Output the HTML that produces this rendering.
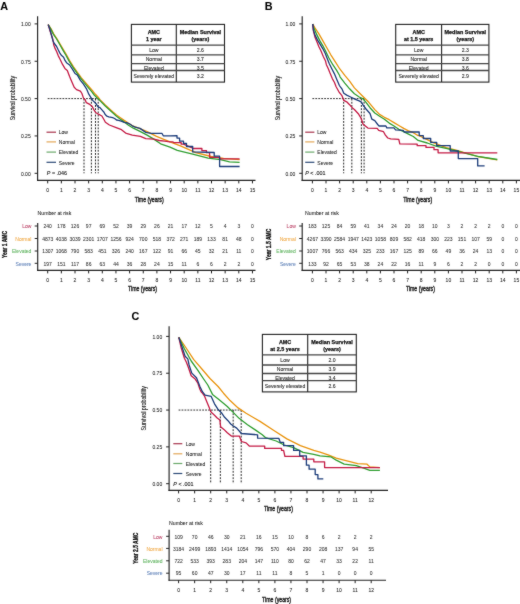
<!DOCTYPE html><html><head><meta charset="utf-8"><style>html,body{margin:0;padding:0;background:#fff;width:520px;height:604px;overflow:hidden}svg{display:block}text{font-family:"Liberation Sans",sans-serif}</style></head><body>
<svg width="520" height="604" viewBox="0 0 520 604">
<defs><filter id="bl" x="0" y="0" width="520" height="604" filterUnits="userSpaceOnUse" color-interpolation-filters="sRGB"><feConvolveMatrix order="3" kernelMatrix="1 2 1 2 28 2 1 2 1" divisor="40" edgeMode="duplicate"/></filter></defs>
<g filter="url(#bl)">
<rect width="520" height="604" fill="#fff"/>
<text x="0.3" y="9.7" font-size="10.8" text-anchor="start" font-weight="bold" fill="#000" stroke="#000" stroke-width="0.06" >A</text>
<line x1="37.6" y1="16.2" x2="37.6" y2="181.0" stroke="#222" stroke-width="1.15"/>
<line x1="37.050000000000004" y1="180.4" x2="255.5" y2="180.4" stroke="#222" stroke-width="1.15"/>
<line x1="34.6" y1="173.3" x2="37.6" y2="173.3" stroke="#222" stroke-width="1"/>
<text x="30.700000000000003" y="175.55" font-size="5" text-anchor="end" font-weight="normal" fill="#222" stroke="#222" stroke-width="0.06" >0.00</text>
<line x1="34.6" y1="135.95" x2="37.6" y2="135.95" stroke="#222" stroke-width="1"/>
<text x="30.700000000000003" y="138.2" font-size="5" text-anchor="end" font-weight="normal" fill="#222" stroke="#222" stroke-width="0.06" >0.25</text>
<line x1="34.6" y1="98.6" x2="37.6" y2="98.6" stroke="#222" stroke-width="1"/>
<text x="30.700000000000003" y="100.85" font-size="5" text-anchor="end" font-weight="normal" fill="#222" stroke="#222" stroke-width="0.06" >0.50</text>
<line x1="34.6" y1="61.25" x2="37.6" y2="61.25" stroke="#222" stroke-width="1"/>
<text x="30.700000000000003" y="63.5" font-size="5" text-anchor="end" font-weight="normal" fill="#222" stroke="#222" stroke-width="0.06" >0.75</text>
<line x1="34.6" y1="23.9" x2="37.6" y2="23.9" stroke="#222" stroke-width="1"/>
<text x="30.700000000000003" y="26.15" font-size="5" text-anchor="end" font-weight="normal" fill="#222" stroke="#222" stroke-width="0.06" >1.00</text>
<line x1="47.7" y1="180.4" x2="47.7" y2="183.4" stroke="#222" stroke-width="1"/>
<text x="47.7" y="192.15" font-size="5" text-anchor="middle" font-weight="normal" fill="#222" stroke="#222" stroke-width="0.06" >0</text>
<line x1="61.35" y1="180.4" x2="61.35" y2="183.4" stroke="#222" stroke-width="1"/>
<text x="61.35" y="192.15" font-size="5" text-anchor="middle" font-weight="normal" fill="#222" stroke="#222" stroke-width="0.06" >1</text>
<line x1="75.0" y1="180.4" x2="75.0" y2="183.4" stroke="#222" stroke-width="1"/>
<text x="75.0" y="192.15" font-size="5" text-anchor="middle" font-weight="normal" fill="#222" stroke="#222" stroke-width="0.06" >2</text>
<line x1="88.65" y1="180.4" x2="88.65" y2="183.4" stroke="#222" stroke-width="1"/>
<text x="88.65" y="192.15" font-size="5" text-anchor="middle" font-weight="normal" fill="#222" stroke="#222" stroke-width="0.06" >3</text>
<line x1="102.3" y1="180.4" x2="102.3" y2="183.4" stroke="#222" stroke-width="1"/>
<text x="102.3" y="192.15" font-size="5" text-anchor="middle" font-weight="normal" fill="#222" stroke="#222" stroke-width="0.06" >4</text>
<line x1="115.95" y1="180.4" x2="115.95" y2="183.4" stroke="#222" stroke-width="1"/>
<text x="115.95" y="192.15" font-size="5" text-anchor="middle" font-weight="normal" fill="#222" stroke="#222" stroke-width="0.06" >5</text>
<line x1="129.6" y1="180.4" x2="129.6" y2="183.4" stroke="#222" stroke-width="1"/>
<text x="129.6" y="192.15" font-size="5" text-anchor="middle" font-weight="normal" fill="#222" stroke="#222" stroke-width="0.06" >6</text>
<line x1="143.25" y1="180.4" x2="143.25" y2="183.4" stroke="#222" stroke-width="1"/>
<text x="143.25" y="192.15" font-size="5" text-anchor="middle" font-weight="normal" fill="#222" stroke="#222" stroke-width="0.06" >7</text>
<line x1="156.9" y1="180.4" x2="156.9" y2="183.4" stroke="#222" stroke-width="1"/>
<text x="156.9" y="192.15" font-size="5" text-anchor="middle" font-weight="normal" fill="#222" stroke="#222" stroke-width="0.06" >8</text>
<line x1="170.55" y1="180.4" x2="170.55" y2="183.4" stroke="#222" stroke-width="1"/>
<text x="170.55" y="192.15" font-size="5" text-anchor="middle" font-weight="normal" fill="#222" stroke="#222" stroke-width="0.06" >9</text>
<line x1="184.2" y1="180.4" x2="184.2" y2="183.4" stroke="#222" stroke-width="1"/>
<text x="184.2" y="192.15" font-size="5" text-anchor="middle" font-weight="normal" fill="#222" stroke="#222" stroke-width="0.06" >10</text>
<line x1="197.85" y1="180.4" x2="197.85" y2="183.4" stroke="#222" stroke-width="1"/>
<text x="197.85" y="192.15" font-size="5" text-anchor="middle" font-weight="normal" fill="#222" stroke="#222" stroke-width="0.06" >11</text>
<line x1="211.5" y1="180.4" x2="211.5" y2="183.4" stroke="#222" stroke-width="1"/>
<text x="211.5" y="192.15" font-size="5" text-anchor="middle" font-weight="normal" fill="#222" stroke="#222" stroke-width="0.06" >12</text>
<line x1="225.15" y1="180.4" x2="225.15" y2="183.4" stroke="#222" stroke-width="1"/>
<text x="225.15" y="192.15" font-size="5" text-anchor="middle" font-weight="normal" fill="#222" stroke="#222" stroke-width="0.06" >13</text>
<line x1="238.8" y1="180.4" x2="238.8" y2="183.4" stroke="#222" stroke-width="1"/>
<text x="238.8" y="192.15" font-size="5" text-anchor="middle" font-weight="normal" fill="#222" stroke="#222" stroke-width="0.06" >14</text>
<line x1="252.45" y1="180.4" x2="252.45" y2="183.4" stroke="#222" stroke-width="1"/>
<text x="252.45" y="192.15" font-size="5" text-anchor="middle" font-weight="normal" fill="#222" stroke="#222" stroke-width="0.06" >15</text>
<text x="149.2" y="202.28" font-size="7.5" text-anchor="middle" font-weight="normal" fill="#1a1a1a" stroke="#1a1a1a" stroke-width="0.4" textLength="29" lengthAdjust="spacingAndGlyphs" >Time (years)</text>
<g transform="translate(13.8,98) rotate(-90)">
<text x="0" y="1.6" font-size="6.3" text-anchor="middle" font-weight="normal" fill="#222" stroke="#222" stroke-width="0.12" textLength="44.5" lengthAdjust="spacingAndGlyphs" >Survival probability</text>
</g>
<line x1="47.7" y1="98.6" x2="98.21" y2="98.6" stroke="#1a1a1a" stroke-width="0.9" stroke-dasharray="1.8 1.15"/>
<line x1="84.01" y1="98.6" x2="84.01" y2="173.3" stroke="#1a1a1a" stroke-width="0.95" stroke-dasharray="1.9 1.3"/>
<line x1="91.38" y1="98.6" x2="91.38" y2="173.3" stroke="#1a1a1a" stroke-width="0.95" stroke-dasharray="1.9 1.3"/>
<line x1="95.47" y1="98.6" x2="95.47" y2="173.3" stroke="#1a1a1a" stroke-width="0.95" stroke-dasharray="1.9 1.3"/>
<line x1="98.21" y1="98.6" x2="98.21" y2="173.3" stroke="#1a1a1a" stroke-width="0.95" stroke-dasharray="1.9 1.3"/>
<polyline points="48.2,24.6 51.2,29.1 53.8,34.1 57.1,39.0 60.5,44.8 66.6,55.0 69.6,60.6 73.5,66.8 77.4,72.4 81.4,77.8 85.3,82.4 89.2,87.0 93.0,91.3 95.4,94.3 98.0,97.0 100.0,99.6 105.0,104.8 108.8,108.3 112.7,111.8 116.5,115.0 120.4,117.7 124.2,120.4 128.5,123.3 133.3,126.2 140.0,128.7 147.1,131.7 156.5,136.4 170.0,141.8 180.4,145.8 195.8,152.7 211.2,156.5 223.5,158.4 239.6,159.6" fill="none" stroke="#e9940f" stroke-width="1.3" stroke-linejoin="round" stroke-linecap="butt"/>
<polyline points="48.2,24.6 50.8,29.1 53.3,34.1 56.6,39.0 59.9,44.8 63.2,50.6 65.8,55.0 68.8,60.6 72.7,66.8 76.5,72.4 80.4,77.8 84.2,82.6 88.1,87.3 91.9,91.9 94.2,95.0 97.0,97.8 100.0,100.6 105.0,105.8 108.8,109.2 112.7,112.7 116.5,116.2 120.4,119.2 124.2,121.9 128.5,125.2 133.3,128.2 140.0,131.4 147.1,135.1 153.8,139.1 160.6,143.8 170.0,147.2 177.3,150.4 192.7,154.2 208.1,158.1 220.4,159.6 229.6,161.9 239.6,162.4" fill="none" stroke="#2f9e30" stroke-width="1.3" stroke-linejoin="round" stroke-linecap="butt"/>
<polyline points="48.2,24.6 50.0,30.8 52.5,38.2 53.3,41.5 53.7,44.8 54.9,48.1 56.6,51.5 58.2,55.6 60.3,59.7 62.4,64.2 64.9,68.4 67.3,70.4 69.6,76.5 71.9,81.9 74.2,87.3 76.5,89.6 80.4,91.2 81.9,93.5 83.5,98.1 85.2,99.8 86.3,102.7 89.8,104.4 92.1,106.2 93.8,109.6 95.6,112.5 98.4,114.2 101.9,116.0 104.2,120.0 105.4,122.3 109.4,125.0 116.2,127.7 121.5,129.7 125.6,133.1 132.3,135.1 140.4,136.4 145.8,138.7 153.8,139.1 159.2,140.5 164.6,141.1 170.0,141.8 172.7,141.9 174.2,142.7 181.2,142.7 181.2,144.2 183.5,144.2 193.5,148.5 201.9,148.5 201.9,150.7 206.5,150.7 206.5,152.7 209.6,152.7 209.6,157.3 218.8,157.3 220.4,158.8 239.6,158.8" fill="none" stroke="#c41a44" stroke-width="1.3" stroke-linejoin="round" stroke-linecap="butt"/>
<polyline points="48.2,24.6 50.0,29.9 51.6,35.7 52.9,40.7 54.1,43.2 56.6,46.5 58.2,49.8 59.9,53.1 61.6,55.6 63.6,57.3 65.0,60.4 66.5,62.7 69.6,65.0 72.7,69.6 75.0,73.5 77.3,75.0 80.4,80.4 83.5,84.2 86.5,88.8 88.8,94.2 92.7,100.4 96.1,103.8 98.4,107.3 99.6,107.3 101.5,109.4 104.0,112.2 105.0,114.2 106.9,116.2 108.8,116.9 112.7,117.7 114.6,118.5 116.5,120.0 118.5,120.4 121.2,121.2 124.2,122.3 126.5,122.6 129.4,123.8 132.3,125.8 135.2,127.2 140.0,128.4 145.8,132.4 151.1,133.3 161.9,133.3 163.3,135.8 170.0,135.8 177.0,135.6 177.0,138.1 179.6,138.1 179.6,141.2 183.5,141.2 183.5,143.5 186.5,143.5 186.5,146.5 192.7,146.5 192.7,151.9 214.2,152.5 214.2,156.2 219.6,156.2 219.6,166.5 239.6,166.5" fill="none" stroke="#1c3c7a" stroke-width="1.3" stroke-linejoin="round" stroke-linecap="butt"/>
<line x1="46.5" y1="132.2" x2="56" y2="132.2" stroke="#a8344c" stroke-width="1.2"/>
<text x="58.8" y="134.45" font-size="5" text-anchor="start" font-weight="normal" fill="#222" stroke="#222" stroke-width="0.06" >Low</text>
<line x1="46.5" y1="141.9" x2="56" y2="141.9" stroke="#e2a656" stroke-width="1.2"/>
<text x="58.8" y="144.15" font-size="5" text-anchor="start" font-weight="normal" fill="#222" stroke="#222" stroke-width="0.06" >Normal</text>
<line x1="46.5" y1="152.1" x2="56" y2="152.1" stroke="#6aa86a" stroke-width="1.2"/>
<text x="58.8" y="154.35" font-size="5" text-anchor="start" font-weight="normal" fill="#222" stroke="#222" stroke-width="0.06" >Elevated</text>
<line x1="46.5" y1="162.3" x2="56" y2="162.3" stroke="#2c4a78" stroke-width="1.2"/>
<text x="58.8" y="164.55" font-size="5" text-anchor="start" font-weight="normal" fill="#222" stroke="#222" stroke-width="0.06" >Severe</text>
<text x="46.8" y="174.73" font-size="5.4" fill="#222" stroke="#222" stroke-width="0.12"><tspan font-style="italic">P</tspan> = .046</text>
<rect x="131.4" y="24.4" width="93.1" height="57.699999999999996" fill="#fff" stroke="#222" stroke-width="1.1"/>
<line x1="176.3" y1="24.4" x2="176.3" y2="82.1" stroke="#222" stroke-width="1.1"/>
<line x1="131.4" y1="45.2" x2="224.5" y2="45.2" stroke="#444" stroke-width="1.3"/>
<line x1="131.4" y1="54.9" x2="224.5" y2="54.9" stroke="#444" stroke-width="1.3"/>
<line x1="131.4" y1="63.7" x2="224.5" y2="63.7" stroke="#444" stroke-width="1.3"/>
<line x1="131.4" y1="70.5" x2="224.5" y2="70.5" stroke="#444" stroke-width="1.3"/>
<text x="153.85000000000002" y="33.73" font-size="5.4" text-anchor="middle" font-weight="bold" fill="#111" stroke="#111" stroke-width="0.25" >AMC</text>
<text x="153.85000000000002" y="40.73" font-size="5.4" text-anchor="middle" font-weight="bold" fill="#111" stroke="#111" stroke-width="0.25" >1 year</text>
<text x="200.4" y="33.73" font-size="5.4" text-anchor="middle" font-weight="bold" fill="#111" stroke="#111" stroke-width="0.25" textLength="41.5" lengthAdjust="spacingAndGlyphs" >Median Survival</text>
<text x="200.4" y="40.73" font-size="5.4" text-anchor="middle" font-weight="bold" fill="#111" stroke="#111" stroke-width="0.25" >(years)</text>
<text x="153.85000000000002" y="52.3" font-size="5.1" text-anchor="middle" font-weight="normal" fill="#2a2a2a" stroke="#2a2a2a" stroke-width="0.1" >Low</text>
<text x="200.4" y="52.3" font-size="5.1" text-anchor="middle" font-weight="normal" fill="#2a2a2a" stroke="#2a2a2a" stroke-width="0.1" >2.6</text>
<text x="153.85000000000002" y="61.3" font-size="5.1" text-anchor="middle" font-weight="normal" fill="#2a2a2a" stroke="#2a2a2a" stroke-width="0.1" >Normal</text>
<text x="200.4" y="61.3" font-size="5.1" text-anchor="middle" font-weight="normal" fill="#2a2a2a" stroke="#2a2a2a" stroke-width="0.1" >3.7</text>
<text x="153.85000000000002" y="69.8" font-size="5.1" text-anchor="middle" font-weight="normal" fill="#2a2a2a" stroke="#2a2a2a" stroke-width="0.1" >Elevated</text>
<text x="200.4" y="69.8" font-size="5.1" text-anchor="middle" font-weight="normal" fill="#2a2a2a" stroke="#2a2a2a" stroke-width="0.1" >3.5</text>
<text x="153.85000000000002" y="78.09" font-size="5.1" text-anchor="middle" font-weight="normal" fill="#2a2a2a" stroke="#2a2a2a" stroke-width="0.1" >Severely elevated</text>
<text x="200.4" y="78.09" font-size="5.1" text-anchor="middle" font-weight="normal" fill="#2a2a2a" stroke="#2a2a2a" stroke-width="0.1" >3.2</text>
<text x="264.8" y="9.7" font-size="10.8" text-anchor="start" font-weight="bold" fill="#000" stroke="#000" stroke-width="0.06" >B</text>
<line x1="302.2" y1="16.2" x2="302.2" y2="181.0" stroke="#222" stroke-width="1.15"/>
<line x1="301.65" y1="180.4" x2="520" y2="180.4" stroke="#222" stroke-width="1.15"/>
<line x1="299.2" y1="173.3" x2="302.2" y2="173.3" stroke="#222" stroke-width="1"/>
<text x="295.3" y="175.55" font-size="5" text-anchor="end" font-weight="normal" fill="#222" stroke="#222" stroke-width="0.06" >0.00</text>
<line x1="299.2" y1="135.95" x2="302.2" y2="135.95" stroke="#222" stroke-width="1"/>
<text x="295.3" y="138.2" font-size="5" text-anchor="end" font-weight="normal" fill="#222" stroke="#222" stroke-width="0.06" >0.25</text>
<line x1="299.2" y1="98.6" x2="302.2" y2="98.6" stroke="#222" stroke-width="1"/>
<text x="295.3" y="100.85" font-size="5" text-anchor="end" font-weight="normal" fill="#222" stroke="#222" stroke-width="0.06" >0.50</text>
<line x1="299.2" y1="61.25" x2="302.2" y2="61.25" stroke="#222" stroke-width="1"/>
<text x="295.3" y="63.5" font-size="5" text-anchor="end" font-weight="normal" fill="#222" stroke="#222" stroke-width="0.06" >0.75</text>
<line x1="299.2" y1="23.9" x2="302.2" y2="23.9" stroke="#222" stroke-width="1"/>
<text x="295.3" y="26.15" font-size="5" text-anchor="end" font-weight="normal" fill="#222" stroke="#222" stroke-width="0.06" >1.00</text>
<line x1="312.4" y1="180.4" x2="312.4" y2="183.4" stroke="#222" stroke-width="1"/>
<text x="312.4" y="192.15" font-size="5" text-anchor="middle" font-weight="normal" fill="#222" stroke="#222" stroke-width="0.06" >0</text>
<line x1="326.0" y1="180.4" x2="326.0" y2="183.4" stroke="#222" stroke-width="1"/>
<text x="326.0" y="192.15" font-size="5" text-anchor="middle" font-weight="normal" fill="#222" stroke="#222" stroke-width="0.06" >1</text>
<line x1="339.6" y1="180.4" x2="339.6" y2="183.4" stroke="#222" stroke-width="1"/>
<text x="339.6" y="192.15" font-size="5" text-anchor="middle" font-weight="normal" fill="#222" stroke="#222" stroke-width="0.06" >2</text>
<line x1="353.2" y1="180.4" x2="353.2" y2="183.4" stroke="#222" stroke-width="1"/>
<text x="353.2" y="192.15" font-size="5" text-anchor="middle" font-weight="normal" fill="#222" stroke="#222" stroke-width="0.06" >3</text>
<line x1="366.8" y1="180.4" x2="366.8" y2="183.4" stroke="#222" stroke-width="1"/>
<text x="366.8" y="192.15" font-size="5" text-anchor="middle" font-weight="normal" fill="#222" stroke="#222" stroke-width="0.06" >4</text>
<line x1="380.4" y1="180.4" x2="380.4" y2="183.4" stroke="#222" stroke-width="1"/>
<text x="380.4" y="192.15" font-size="5" text-anchor="middle" font-weight="normal" fill="#222" stroke="#222" stroke-width="0.06" >5</text>
<line x1="394.0" y1="180.4" x2="394.0" y2="183.4" stroke="#222" stroke-width="1"/>
<text x="394.0" y="192.15" font-size="5" text-anchor="middle" font-weight="normal" fill="#222" stroke="#222" stroke-width="0.06" >6</text>
<line x1="407.6" y1="180.4" x2="407.6" y2="183.4" stroke="#222" stroke-width="1"/>
<text x="407.6" y="192.15" font-size="5" text-anchor="middle" font-weight="normal" fill="#222" stroke="#222" stroke-width="0.06" >7</text>
<line x1="421.2" y1="180.4" x2="421.2" y2="183.4" stroke="#222" stroke-width="1"/>
<text x="421.2" y="192.15" font-size="5" text-anchor="middle" font-weight="normal" fill="#222" stroke="#222" stroke-width="0.06" >8</text>
<line x1="434.8" y1="180.4" x2="434.8" y2="183.4" stroke="#222" stroke-width="1"/>
<text x="434.8" y="192.15" font-size="5" text-anchor="middle" font-weight="normal" fill="#222" stroke="#222" stroke-width="0.06" >9</text>
<line x1="448.4" y1="180.4" x2="448.4" y2="183.4" stroke="#222" stroke-width="1"/>
<text x="448.4" y="192.15" font-size="5" text-anchor="middle" font-weight="normal" fill="#222" stroke="#222" stroke-width="0.06" >10</text>
<line x1="462.0" y1="180.4" x2="462.0" y2="183.4" stroke="#222" stroke-width="1"/>
<text x="462.0" y="192.15" font-size="5" text-anchor="middle" font-weight="normal" fill="#222" stroke="#222" stroke-width="0.06" >11</text>
<line x1="475.6" y1="180.4" x2="475.6" y2="183.4" stroke="#222" stroke-width="1"/>
<text x="475.6" y="192.15" font-size="5" text-anchor="middle" font-weight="normal" fill="#222" stroke="#222" stroke-width="0.06" >12</text>
<line x1="489.2" y1="180.4" x2="489.2" y2="183.4" stroke="#222" stroke-width="1"/>
<text x="489.2" y="192.15" font-size="5" text-anchor="middle" font-weight="normal" fill="#222" stroke="#222" stroke-width="0.06" >13</text>
<line x1="502.8" y1="180.4" x2="502.8" y2="183.4" stroke="#222" stroke-width="1"/>
<text x="502.8" y="192.15" font-size="5" text-anchor="middle" font-weight="normal" fill="#222" stroke="#222" stroke-width="0.06" >14</text>
<line x1="516.4" y1="180.4" x2="516.4" y2="183.4" stroke="#222" stroke-width="1"/>
<text x="516.4" y="192.15" font-size="5" text-anchor="middle" font-weight="normal" fill="#222" stroke="#222" stroke-width="0.06" >15</text>
<text x="417.7" y="202.28" font-size="7.5" text-anchor="middle" font-weight="normal" fill="#1a1a1a" stroke="#1a1a1a" stroke-width="0.4" textLength="29" lengthAdjust="spacingAndGlyphs" >Time (years)</text>
<g transform="translate(278.2,98) rotate(-90)">
<text x="0" y="1.6" font-size="6.3" text-anchor="middle" font-weight="normal" fill="#222" stroke="#222" stroke-width="0.12" textLength="44.5" lengthAdjust="spacingAndGlyphs" >Survival probability</text>
</g>
<line x1="312.4" y1="98.6" x2="364.08" y2="98.6" stroke="#1a1a1a" stroke-width="0.9" stroke-dasharray="1.8 1.15"/>
<line x1="343.68" y1="98.6" x2="343.68" y2="173.3" stroke="#1a1a1a" stroke-width="0.95" stroke-dasharray="1.9 1.3"/>
<line x1="351.84" y1="98.6" x2="351.84" y2="173.3" stroke="#1a1a1a" stroke-width="0.95" stroke-dasharray="1.9 1.3"/>
<line x1="361.36" y1="98.6" x2="361.36" y2="173.3" stroke="#1a1a1a" stroke-width="0.95" stroke-dasharray="1.9 1.3"/>
<line x1="364.08" y1="98.6" x2="364.08" y2="173.3" stroke="#1a1a1a" stroke-width="0.95" stroke-dasharray="1.9 1.3"/>
<polyline points="312.7,24.0 314.9,27.9 318.9,33.9 322.9,40.9 326.8,47.8 330.8,54.8 335.8,62.7 339.5,68.5 340.0,69.1 344.8,75.4 349.6,81.2 354.4,87.9 359.2,92.7 364.0,97.5 368.8,102.3 374.8,109.6 379.6,114.4 384.4,117.3 389.2,119.7 394.0,122.6 398.8,125.5 403.7,128.4 408.5,130.8 413.3,132.7 418.1,135.6 419.2,135.6 432.7,142.3 446.1,147.7 456.9,150.4 465.0,152.8 477.7,156.5 497.3,159.8" fill="none" stroke="#e9940f" stroke-width="1.3" stroke-linejoin="round" stroke-linecap="butt"/>
<polyline points="312.7,24.0 313.9,27.9 316.9,34.9 319.9,40.9 322.9,45.8 325.9,51.8 328.8,57.7 332.8,64.7 336.8,70.6 339.6,75.5 340.0,76.8 344.8,83.1 349.6,88.8 354.4,93.7 359.2,97.0 363.1,98.9 366.0,102.3 370.0,107.7 374.8,113.0 379.6,116.3 384.4,119.2 389.2,123.1 394.0,126.0 398.8,129.3 403.7,131.7 408.5,134.1 413.3,136.5 418.1,140.4 427.3,143.0 436.7,146.3 446.1,148.4 456.9,151.0 465.0,153.1 477.7,156.3 497.3,159.5" fill="none" stroke="#2f9e30" stroke-width="1.3" stroke-linejoin="round" stroke-linecap="butt"/>
<polyline points="312.7,24.0 313.4,30.9 314.9,36.9 316.9,41.8 318.9,46.8 320.9,50.8 323.4,56.7 325.4,60.7 326.4,64.7 328.3,68.7 329.8,72.6 332.3,78.6 334.5,82.5 336.0,86.5 339.3,92.5 340.0,93.2 341.9,95.6 343.8,100.4 346.7,101.8 349.6,104.7 352.5,108.1 354.4,109.5 358.3,113.7 361.2,118.5 363.1,124.2 367.9,128.1 377.2,128.4 378.7,130.3 383.5,131.7 385.4,135.1 387.8,138.0 390.7,138.9 398.8,139.4 399.8,143.8 417.2,144.2 417.2,145.7 426.0,145.7 426.0,147.4 434.0,147.4 434.0,149.7 438.1,149.7 438.1,152.8 497.3,152.8" fill="none" stroke="#c41a44" stroke-width="1.3" stroke-linejoin="round" stroke-linecap="butt"/>
<polyline points="312.7,24.0 313.4,29.9 314.9,34.9 317.4,39.9 319.9,43.8 322.9,48.8 325.4,53.8 327.3,58.7 329.3,63.7 331.8,68.7 334.3,73.6 336.8,79.6 339.4,85.5 340.0,86.4 341.9,88.8 343.8,93.2 346.7,95.1 350.6,97.0 355.4,99.4 359.2,100.9 361.6,102.3 363.1,105.2 366.0,109.0 370.0,113.5 371.9,119.2 374.8,120.7 377.7,124.5 379.1,126.0 385.9,126.0 386.8,127.9 394.0,127.9 395.5,129.8 403.2,130.3 404.1,132.0 419.2,132.0 419.2,135.6 423.3,135.6 423.3,138.5 430.7,138.5 430.7,142.3 436.7,142.3 436.7,145.7 450.2,145.7 450.2,151.0 458.3,151.0 458.3,158.6 477.7,158.6 477.7,165.9 484.6,165.9" fill="none" stroke="#1c3c7a" stroke-width="1.3" stroke-linejoin="round" stroke-linecap="butt"/>
<line x1="305.2" y1="132.2" x2="314.4" y2="132.2" stroke="#a8344c" stroke-width="1.2"/>
<text x="317.3" y="134.45" font-size="5" text-anchor="start" font-weight="normal" fill="#222" stroke="#222" stroke-width="0.06" >Low</text>
<line x1="305.2" y1="141.9" x2="314.4" y2="141.9" stroke="#e2a656" stroke-width="1.2"/>
<text x="317.3" y="144.15" font-size="5" text-anchor="start" font-weight="normal" fill="#222" stroke="#222" stroke-width="0.06" >Normal</text>
<line x1="305.2" y1="152.1" x2="314.4" y2="152.1" stroke="#6aa86a" stroke-width="1.2"/>
<text x="317.3" y="154.35" font-size="5" text-anchor="start" font-weight="normal" fill="#222" stroke="#222" stroke-width="0.06" >Elevated</text>
<line x1="305.2" y1="162.3" x2="314.4" y2="162.3" stroke="#2c4a78" stroke-width="1.2"/>
<text x="317.3" y="164.55" font-size="5" text-anchor="start" font-weight="normal" fill="#222" stroke="#222" stroke-width="0.06" >Severe</text>
<text x="305.2" y="174.73" font-size="5.4" fill="#222" stroke="#222" stroke-width="0.12"><tspan font-style="italic">P</tspan> &lt; .001</text>
<rect x="395.7" y="24.4" width="93.19999999999999" height="57.699999999999996" fill="#fff" stroke="#222" stroke-width="1.1"/>
<line x1="441.6" y1="24.4" x2="441.6" y2="82.1" stroke="#222" stroke-width="1.1"/>
<line x1="395.7" y1="45.2" x2="488.9" y2="45.2" stroke="#444" stroke-width="1.3"/>
<line x1="395.7" y1="54.9" x2="488.9" y2="54.9" stroke="#444" stroke-width="1.3"/>
<line x1="395.7" y1="63.7" x2="488.9" y2="63.7" stroke="#444" stroke-width="1.3"/>
<line x1="395.7" y1="70.5" x2="488.9" y2="70.5" stroke="#444" stroke-width="1.3"/>
<text x="418.65" y="33.73" font-size="5.4" text-anchor="middle" font-weight="bold" fill="#111" stroke="#111" stroke-width="0.25" >AMC</text>
<text x="418.65" y="40.73" font-size="5.4" text-anchor="middle" font-weight="bold" fill="#111" stroke="#111" stroke-width="0.25" >at 1.5 years</text>
<text x="465.25" y="33.73" font-size="5.4" text-anchor="middle" font-weight="bold" fill="#111" stroke="#111" stroke-width="0.25" textLength="41.5" lengthAdjust="spacingAndGlyphs" >Median Survival</text>
<text x="465.25" y="40.73" font-size="5.4" text-anchor="middle" font-weight="bold" fill="#111" stroke="#111" stroke-width="0.25" >(years)</text>
<text x="418.65" y="52.3" font-size="5.1" text-anchor="middle" font-weight="normal" fill="#2a2a2a" stroke="#2a2a2a" stroke-width="0.1" >Low</text>
<text x="465.25" y="52.3" font-size="5.1" text-anchor="middle" font-weight="normal" fill="#2a2a2a" stroke="#2a2a2a" stroke-width="0.1" >2.3</text>
<text x="418.65" y="61.3" font-size="5.1" text-anchor="middle" font-weight="normal" fill="#2a2a2a" stroke="#2a2a2a" stroke-width="0.1" >Normal</text>
<text x="465.25" y="61.3" font-size="5.1" text-anchor="middle" font-weight="normal" fill="#2a2a2a" stroke="#2a2a2a" stroke-width="0.1" >3.8</text>
<text x="418.65" y="69.8" font-size="5.1" text-anchor="middle" font-weight="normal" fill="#2a2a2a" stroke="#2a2a2a" stroke-width="0.1" >Elevated</text>
<text x="465.25" y="69.8" font-size="5.1" text-anchor="middle" font-weight="normal" fill="#2a2a2a" stroke="#2a2a2a" stroke-width="0.1" >3.6</text>
<text x="418.65" y="78.09" font-size="5.1" text-anchor="middle" font-weight="normal" fill="#2a2a2a" stroke="#2a2a2a" stroke-width="0.1" >Severely elevated</text>
<text x="465.25" y="78.09" font-size="5.1" text-anchor="middle" font-weight="normal" fill="#2a2a2a" stroke="#2a2a2a" stroke-width="0.1" >2.9</text>
<text x="131.5" y="319.8" font-size="10.8" text-anchor="start" font-weight="bold" fill="#000" stroke="#000" stroke-width="0.06" >C</text>
<line x1="169.1" y1="326.3" x2="169.1" y2="491.0" stroke="#222" stroke-width="1.15"/>
<line x1="168.54999999999998" y1="490.4" x2="388" y2="490.4" stroke="#222" stroke-width="1.15"/>
<line x1="166.1" y1="483.7" x2="169.1" y2="483.7" stroke="#222" stroke-width="1"/>
<text x="162.2" y="485.95" font-size="5" text-anchor="end" font-weight="normal" fill="#222" stroke="#222" stroke-width="0.06" >0.00</text>
<line x1="166.1" y1="446.88" x2="169.1" y2="446.88" stroke="#222" stroke-width="1"/>
<text x="162.2" y="449.13" font-size="5" text-anchor="end" font-weight="normal" fill="#222" stroke="#222" stroke-width="0.06" >0.25</text>
<line x1="166.1" y1="410.05" x2="169.1" y2="410.05" stroke="#222" stroke-width="1"/>
<text x="162.2" y="412.3" font-size="5" text-anchor="end" font-weight="normal" fill="#222" stroke="#222" stroke-width="0.06" >0.50</text>
<line x1="166.1" y1="373.22" x2="169.1" y2="373.22" stroke="#222" stroke-width="1"/>
<text x="162.2" y="375.47" font-size="5" text-anchor="end" font-weight="normal" fill="#222" stroke="#222" stroke-width="0.06" >0.75</text>
<line x1="166.1" y1="336.4" x2="169.1" y2="336.4" stroke="#222" stroke-width="1"/>
<text x="162.2" y="338.65" font-size="5" text-anchor="end" font-weight="normal" fill="#222" stroke="#222" stroke-width="0.06" >1.00</text>
<line x1="178.6" y1="490.4" x2="178.6" y2="493.4" stroke="#222" stroke-width="1"/>
<text x="178.6" y="502.15" font-size="5" text-anchor="middle" font-weight="normal" fill="#222" stroke="#222" stroke-width="0.06" >0</text>
<line x1="194.65" y1="490.4" x2="194.65" y2="493.4" stroke="#222" stroke-width="1"/>
<text x="194.65" y="502.15" font-size="5" text-anchor="middle" font-weight="normal" fill="#222" stroke="#222" stroke-width="0.06" >1</text>
<line x1="210.7" y1="490.4" x2="210.7" y2="493.4" stroke="#222" stroke-width="1"/>
<text x="210.7" y="502.15" font-size="5" text-anchor="middle" font-weight="normal" fill="#222" stroke="#222" stroke-width="0.06" >2</text>
<line x1="226.75" y1="490.4" x2="226.75" y2="493.4" stroke="#222" stroke-width="1"/>
<text x="226.75" y="502.15" font-size="5" text-anchor="middle" font-weight="normal" fill="#222" stroke="#222" stroke-width="0.06" >3</text>
<line x1="242.8" y1="490.4" x2="242.8" y2="493.4" stroke="#222" stroke-width="1"/>
<text x="242.8" y="502.15" font-size="5" text-anchor="middle" font-weight="normal" fill="#222" stroke="#222" stroke-width="0.06" >4</text>
<line x1="258.85" y1="490.4" x2="258.85" y2="493.4" stroke="#222" stroke-width="1"/>
<text x="258.85" y="502.15" font-size="5" text-anchor="middle" font-weight="normal" fill="#222" stroke="#222" stroke-width="0.06" >5</text>
<line x1="274.9" y1="490.4" x2="274.9" y2="493.4" stroke="#222" stroke-width="1"/>
<text x="274.9" y="502.15" font-size="5" text-anchor="middle" font-weight="normal" fill="#222" stroke="#222" stroke-width="0.06" >6</text>
<line x1="290.95" y1="490.4" x2="290.95" y2="493.4" stroke="#222" stroke-width="1"/>
<text x="290.95" y="502.15" font-size="5" text-anchor="middle" font-weight="normal" fill="#222" stroke="#222" stroke-width="0.06" >7</text>
<line x1="307.0" y1="490.4" x2="307.0" y2="493.4" stroke="#222" stroke-width="1"/>
<text x="307.0" y="502.15" font-size="5" text-anchor="middle" font-weight="normal" fill="#222" stroke="#222" stroke-width="0.06" >8</text>
<line x1="323.05" y1="490.4" x2="323.05" y2="493.4" stroke="#222" stroke-width="1"/>
<text x="323.05" y="502.15" font-size="5" text-anchor="middle" font-weight="normal" fill="#222" stroke="#222" stroke-width="0.06" >9</text>
<line x1="339.1" y1="490.4" x2="339.1" y2="493.4" stroke="#222" stroke-width="1"/>
<text x="339.1" y="502.15" font-size="5" text-anchor="middle" font-weight="normal" fill="#222" stroke="#222" stroke-width="0.06" >10</text>
<line x1="355.15" y1="490.4" x2="355.15" y2="493.4" stroke="#222" stroke-width="1"/>
<text x="355.15" y="502.15" font-size="5" text-anchor="middle" font-weight="normal" fill="#222" stroke="#222" stroke-width="0.06" >11</text>
<line x1="371.2" y1="490.4" x2="371.2" y2="493.4" stroke="#222" stroke-width="1"/>
<text x="371.2" y="502.15" font-size="5" text-anchor="middle" font-weight="normal" fill="#222" stroke="#222" stroke-width="0.06" >12</text>
<text x="278.4" y="511.28" font-size="7.5" text-anchor="middle" font-weight="normal" fill="#1a1a1a" stroke="#1a1a1a" stroke-width="0.4" textLength="29" lengthAdjust="spacingAndGlyphs" >Time (years)</text>
<g transform="translate(144.2,408.3) rotate(-90)">
<text x="0" y="1.6" font-size="6.3" text-anchor="middle" font-weight="normal" fill="#222" stroke="#222" stroke-width="0.12" textLength="44.5" lengthAdjust="spacingAndGlyphs" >Survival probability</text>
</g>
<line x1="178.6" y1="410.05" x2="241.19" y2="410.05" stroke="#1a1a1a" stroke-width="0.9" stroke-dasharray="1.8 1.15"/>
<line x1="210.7" y1="410.05" x2="210.7" y2="483.7" stroke="#1a1a1a" stroke-width="0.95" stroke-dasharray="1.9 1.3"/>
<line x1="220.33" y1="410.05" x2="220.33" y2="483.7" stroke="#1a1a1a" stroke-width="0.95" stroke-dasharray="1.9 1.3"/>
<line x1="233.17" y1="410.05" x2="233.17" y2="483.7" stroke="#1a1a1a" stroke-width="0.95" stroke-dasharray="1.9 1.3"/>
<line x1="241.19" y1="410.05" x2="241.19" y2="483.7" stroke="#1a1a1a" stroke-width="0.95" stroke-dasharray="1.9 1.3"/>
<polyline points="178.8,337.4 185.8,347.5 193.8,359.6 201.9,369.0 210.0,378.5 218.1,386.5 223.5,393.2 230.1,400.6 238.1,407.9 246.1,413.3 254.2,418.0 260.0,421.4 273.5,430.2 286.9,438.9 300.4,445.7 313.8,450.4 320.0,452.1 328.1,454.8 336.2,458.2 346.9,460.9 357.7,463.6 367.1,464.2 369.8,466.9 379.9,467.6" fill="none" stroke="#e9940f" stroke-width="1.3" stroke-linejoin="round" stroke-linecap="butt"/>
<polyline points="178.8,337.4 184.4,348.8 191.2,361.0 197.9,370.4 203.3,378.5 207.8,385.0 212.5,394.4 219.2,399.8 227.3,406.5 232.7,411.9 239.4,418.6 247.5,424.7 255.6,430.1 262.3,434.8 265.4,437.6 276.2,441.0 284.2,445.0 293.6,447.7 303.1,452.4 313.8,454.4 320.0,455.9 330.8,456.8 336.2,460.2 344.2,464.2 356.3,465.6 364.4,468.3 369.8,470.3 379.9,470.3" fill="none" stroke="#2f9e30" stroke-width="1.3" stroke-linejoin="round" stroke-linecap="butt"/>
<polyline points="178.8,337.4 181.1,347.5 184.4,358.3 186.4,362.3 188.5,367.7 191.2,375.8 195.2,379.1 197.9,383.2 199.9,389.2 201.1,391.7 202.6,393.3 204.4,395.8 207.1,402.5 209.1,407.2 210.9,411.9 214.5,415.3 217.2,418.0 219.9,420.0 220.6,426.7 223.9,429.4 227.3,432.8 231.3,436.1 239.4,436.1 241.4,441.5 246.1,442.9 249.5,446.2 264.7,446.2 264.7,448.4 281.5,448.4 281.5,450.4 283.6,450.4 284.9,456.4 303.1,456.4 303.1,459.1 313.8,459.1 313.8,461.8 324.6,461.8 324.6,467.6 379.9,467.6" fill="none" stroke="#c41a44" stroke-width="1.3" stroke-linejoin="round" stroke-linecap="butt"/>
<polyline points="178.8,337.4 183.1,350.2 185.1,356.2 187.8,358.9 189.1,365.0 191.8,373.1 196.5,377.8 199.9,386.5 202.4,391.7 205.1,395.1 211.2,396.4 214.5,403.8 217.9,409.2 221.9,413.3 224.6,417.3 228.0,420.7 230.7,424.0 233.4,426.0 236.7,428.1 241.4,433.5 257.6,434.8 257.6,438.2 278.8,438.3 280.2,442.3 283.6,442.3 283.6,445.7 293.6,445.7 293.6,450.4 299.7,450.4 299.7,455.8 306.4,455.8 306.4,465.2 309.1,465.2 309.1,469.2 315.2,469.2 315.2,474.6 317.9,474.6 317.9,478.9 323.3,478.9" fill="none" stroke="#1c3c7a" stroke-width="1.3" stroke-linejoin="round" stroke-linecap="butt"/>
<line x1="173.3" y1="443.7" x2="182.3" y2="443.7" stroke="#a8344c" stroke-width="1.2"/>
<text x="185.8" y="445.95" font-size="5" text-anchor="start" font-weight="normal" fill="#222" stroke="#222" stroke-width="0.06" >Low</text>
<line x1="173.3" y1="453.8" x2="182.3" y2="453.8" stroke="#e2a656" stroke-width="1.2"/>
<text x="185.8" y="456.05" font-size="5" text-anchor="start" font-weight="normal" fill="#222" stroke="#222" stroke-width="0.06" >Normal</text>
<line x1="173.3" y1="463.5" x2="182.3" y2="463.5" stroke="#6aa86a" stroke-width="1.2"/>
<text x="185.8" y="465.75" font-size="5" text-anchor="start" font-weight="normal" fill="#222" stroke="#222" stroke-width="0.06" >Elevated</text>
<line x1="173.3" y1="473.5" x2="182.3" y2="473.5" stroke="#2c4a78" stroke-width="1.2"/>
<text x="185.8" y="475.75" font-size="5" text-anchor="start" font-weight="normal" fill="#222" stroke="#222" stroke-width="0.06" >Severe</text>
<text x="173.3" y="486.13" font-size="5.4" fill="#222" stroke="#222" stroke-width="0.12"><tspan font-style="italic">P</tspan> &lt; .001</text>
<rect x="262.4" y="334.4" width="93.90000000000003" height="57.5" fill="#fff" stroke="#222" stroke-width="1.1"/>
<line x1="307.7" y1="334.4" x2="307.7" y2="391.9" stroke="#222" stroke-width="1.1"/>
<line x1="262.4" y1="354.9" x2="356.3" y2="354.9" stroke="#444" stroke-width="1.3"/>
<line x1="262.4" y1="365.0" x2="356.3" y2="365.0" stroke="#444" stroke-width="1.3"/>
<line x1="262.4" y1="373.5" x2="356.3" y2="373.5" stroke="#444" stroke-width="1.3"/>
<line x1="262.4" y1="380.6" x2="356.3" y2="380.6" stroke="#444" stroke-width="1.3"/>
<text x="285.04999999999995" y="343.73" font-size="5.4" text-anchor="middle" font-weight="bold" fill="#111" stroke="#111" stroke-width="0.25" >AMC</text>
<text x="285.04999999999995" y="350.73" font-size="5.4" text-anchor="middle" font-weight="bold" fill="#111" stroke="#111" stroke-width="0.25" >at 2.5 years</text>
<text x="332.0" y="343.73" font-size="5.4" text-anchor="middle" font-weight="bold" fill="#111" stroke="#111" stroke-width="0.25" textLength="41.5" lengthAdjust="spacingAndGlyphs" >Median Survival</text>
<text x="332.0" y="350.73" font-size="5.4" text-anchor="middle" font-weight="bold" fill="#111" stroke="#111" stroke-width="0.25" >(years)</text>
<text x="285.04999999999995" y="362.3" font-size="5.1" text-anchor="middle" font-weight="normal" fill="#2a2a2a" stroke="#2a2a2a" stroke-width="0.1" >Low</text>
<text x="332.0" y="362.3" font-size="5.1" text-anchor="middle" font-weight="normal" fill="#2a2a2a" stroke="#2a2a2a" stroke-width="0.1" >2.0</text>
<text x="285.04999999999995" y="371.3" font-size="5.1" text-anchor="middle" font-weight="normal" fill="#2a2a2a" stroke="#2a2a2a" stroke-width="0.1" >Normal</text>
<text x="332.0" y="371.3" font-size="5.1" text-anchor="middle" font-weight="normal" fill="#2a2a2a" stroke="#2a2a2a" stroke-width="0.1" >3.9</text>
<text x="285.04999999999995" y="379.8" font-size="5.1" text-anchor="middle" font-weight="normal" fill="#2a2a2a" stroke="#2a2a2a" stroke-width="0.1" >Elevated</text>
<text x="332.0" y="379.8" font-size="5.1" text-anchor="middle" font-weight="normal" fill="#2a2a2a" stroke="#2a2a2a" stroke-width="0.1" >3.4</text>
<text x="285.04999999999995" y="388.09" font-size="5.1" text-anchor="middle" font-weight="normal" fill="#2a2a2a" stroke="#2a2a2a" stroke-width="0.1" >Severely elevated</text>
<text x="332.0" y="388.09" font-size="5.1" text-anchor="middle" font-weight="normal" fill="#2a2a2a" stroke="#2a2a2a" stroke-width="0.1" >2.6</text>
<text x="37.5" y="214.84" font-size="5.2" text-anchor="start" font-weight="normal" fill="#222" stroke="#222" stroke-width="0.06" >Number at risk</text>
<line x1="37.7" y1="223" x2="37.7" y2="271.0" stroke="#222" stroke-width="1.15"/>
<line x1="37.150000000000006" y1="270.4" x2="255.5" y2="270.4" stroke="#222" stroke-width="1.15"/>
<line x1="34.7" y1="226" x2="37.7" y2="226" stroke="#222" stroke-width="1"/>
<text x="31.4" y="228.25" font-size="5" text-anchor="end" font-weight="normal" fill="#bc4468" stroke="#bc4468" stroke-width="0.06" >Low</text>
<text x="47.7" y="228.25" font-size="5" text-anchor="middle" font-weight="normal" fill="#333" stroke="#333" stroke-width="0.06" >240</text>
<text x="61.35" y="228.25" font-size="5" text-anchor="middle" font-weight="normal" fill="#333" stroke="#333" stroke-width="0.06" >178</text>
<text x="75.0" y="228.25" font-size="5" text-anchor="middle" font-weight="normal" fill="#333" stroke="#333" stroke-width="0.06" >126</text>
<text x="88.65" y="228.25" font-size="5" text-anchor="middle" font-weight="normal" fill="#333" stroke="#333" stroke-width="0.06" >97</text>
<text x="102.3" y="228.25" font-size="5" text-anchor="middle" font-weight="normal" fill="#333" stroke="#333" stroke-width="0.06" >69</text>
<text x="115.95" y="228.25" font-size="5" text-anchor="middle" font-weight="normal" fill="#333" stroke="#333" stroke-width="0.06" >52</text>
<text x="129.6" y="228.25" font-size="5" text-anchor="middle" font-weight="normal" fill="#333" stroke="#333" stroke-width="0.06" >39</text>
<text x="143.25" y="228.25" font-size="5" text-anchor="middle" font-weight="normal" fill="#333" stroke="#333" stroke-width="0.06" >29</text>
<text x="156.9" y="228.25" font-size="5" text-anchor="middle" font-weight="normal" fill="#333" stroke="#333" stroke-width="0.06" >26</text>
<text x="170.55" y="228.25" font-size="5" text-anchor="middle" font-weight="normal" fill="#333" stroke="#333" stroke-width="0.06" >21</text>
<text x="184.2" y="228.25" font-size="5" text-anchor="middle" font-weight="normal" fill="#333" stroke="#333" stroke-width="0.06" >17</text>
<text x="197.85" y="228.25" font-size="5" text-anchor="middle" font-weight="normal" fill="#333" stroke="#333" stroke-width="0.06" >12</text>
<text x="211.5" y="228.25" font-size="5" text-anchor="middle" font-weight="normal" fill="#333" stroke="#333" stroke-width="0.06" >5</text>
<text x="225.15" y="228.25" font-size="5" text-anchor="middle" font-weight="normal" fill="#333" stroke="#333" stroke-width="0.06" >4</text>
<text x="238.8" y="228.25" font-size="5" text-anchor="middle" font-weight="normal" fill="#333" stroke="#333" stroke-width="0.06" >3</text>
<text x="252.45" y="228.25" font-size="5" text-anchor="middle" font-weight="normal" fill="#333" stroke="#333" stroke-width="0.06" >0</text>
<line x1="34.7" y1="238.5" x2="37.7" y2="238.5" stroke="#222" stroke-width="1"/>
<text x="31.4" y="240.75" font-size="5" text-anchor="end" font-weight="normal" fill="#f0aa48" stroke="#f0aa48" stroke-width="0.06" >Normal</text>
<text x="47.7" y="240.75" font-size="5" text-anchor="middle" font-weight="normal" fill="#333" stroke="#333" stroke-width="0.06" >4873</text>
<text x="61.35" y="240.75" font-size="5" text-anchor="middle" font-weight="normal" fill="#333" stroke="#333" stroke-width="0.06" >4038</text>
<text x="75.0" y="240.75" font-size="5" text-anchor="middle" font-weight="normal" fill="#333" stroke="#333" stroke-width="0.06" >3039</text>
<text x="88.65" y="240.75" font-size="5" text-anchor="middle" font-weight="normal" fill="#333" stroke="#333" stroke-width="0.06" >2301</text>
<text x="102.3" y="240.75" font-size="5" text-anchor="middle" font-weight="normal" fill="#333" stroke="#333" stroke-width="0.06" >1707</text>
<text x="115.95" y="240.75" font-size="5" text-anchor="middle" font-weight="normal" fill="#333" stroke="#333" stroke-width="0.06" >1256</text>
<text x="129.6" y="240.75" font-size="5" text-anchor="middle" font-weight="normal" fill="#333" stroke="#333" stroke-width="0.06" >924</text>
<text x="143.25" y="240.75" font-size="5" text-anchor="middle" font-weight="normal" fill="#333" stroke="#333" stroke-width="0.06" >700</text>
<text x="156.9" y="240.75" font-size="5" text-anchor="middle" font-weight="normal" fill="#333" stroke="#333" stroke-width="0.06" >518</text>
<text x="170.55" y="240.75" font-size="5" text-anchor="middle" font-weight="normal" fill="#333" stroke="#333" stroke-width="0.06" >372</text>
<text x="184.2" y="240.75" font-size="5" text-anchor="middle" font-weight="normal" fill="#333" stroke="#333" stroke-width="0.06" >271</text>
<text x="197.85" y="240.75" font-size="5" text-anchor="middle" font-weight="normal" fill="#333" stroke="#333" stroke-width="0.06" >189</text>
<text x="211.5" y="240.75" font-size="5" text-anchor="middle" font-weight="normal" fill="#333" stroke="#333" stroke-width="0.06" >133</text>
<text x="225.15" y="240.75" font-size="5" text-anchor="middle" font-weight="normal" fill="#333" stroke="#333" stroke-width="0.06" >81</text>
<text x="238.8" y="240.75" font-size="5" text-anchor="middle" font-weight="normal" fill="#333" stroke="#333" stroke-width="0.06" >48</text>
<text x="252.45" y="240.75" font-size="5" text-anchor="middle" font-weight="normal" fill="#333" stroke="#333" stroke-width="0.06" >0</text>
<line x1="34.7" y1="251" x2="37.7" y2="251" stroke="#222" stroke-width="1"/>
<text x="31.4" y="253.25" font-size="5" text-anchor="end" font-weight="normal" fill="#5cb25c" stroke="#5cb25c" stroke-width="0.06" >Elevated</text>
<text x="47.7" y="253.25" font-size="5" text-anchor="middle" font-weight="normal" fill="#333" stroke="#333" stroke-width="0.06" >1307</text>
<text x="61.35" y="253.25" font-size="5" text-anchor="middle" font-weight="normal" fill="#333" stroke="#333" stroke-width="0.06" >1068</text>
<text x="75.0" y="253.25" font-size="5" text-anchor="middle" font-weight="normal" fill="#333" stroke="#333" stroke-width="0.06" >790</text>
<text x="88.65" y="253.25" font-size="5" text-anchor="middle" font-weight="normal" fill="#333" stroke="#333" stroke-width="0.06" >583</text>
<text x="102.3" y="253.25" font-size="5" text-anchor="middle" font-weight="normal" fill="#333" stroke="#333" stroke-width="0.06" >451</text>
<text x="115.95" y="253.25" font-size="5" text-anchor="middle" font-weight="normal" fill="#333" stroke="#333" stroke-width="0.06" >326</text>
<text x="129.6" y="253.25" font-size="5" text-anchor="middle" font-weight="normal" fill="#333" stroke="#333" stroke-width="0.06" >240</text>
<text x="143.25" y="253.25" font-size="5" text-anchor="middle" font-weight="normal" fill="#333" stroke="#333" stroke-width="0.06" >167</text>
<text x="156.9" y="253.25" font-size="5" text-anchor="middle" font-weight="normal" fill="#333" stroke="#333" stroke-width="0.06" >122</text>
<text x="170.55" y="253.25" font-size="5" text-anchor="middle" font-weight="normal" fill="#333" stroke="#333" stroke-width="0.06" >91</text>
<text x="184.2" y="253.25" font-size="5" text-anchor="middle" font-weight="normal" fill="#333" stroke="#333" stroke-width="0.06" >66</text>
<text x="197.85" y="253.25" font-size="5" text-anchor="middle" font-weight="normal" fill="#333" stroke="#333" stroke-width="0.06" >45</text>
<text x="211.5" y="253.25" font-size="5" text-anchor="middle" font-weight="normal" fill="#333" stroke="#333" stroke-width="0.06" >32</text>
<text x="225.15" y="253.25" font-size="5" text-anchor="middle" font-weight="normal" fill="#333" stroke="#333" stroke-width="0.06" >21</text>
<text x="238.8" y="253.25" font-size="5" text-anchor="middle" font-weight="normal" fill="#333" stroke="#333" stroke-width="0.06" >11</text>
<text x="252.45" y="253.25" font-size="5" text-anchor="middle" font-weight="normal" fill="#333" stroke="#333" stroke-width="0.06" >0</text>
<line x1="34.7" y1="263.3" x2="37.7" y2="263.3" stroke="#222" stroke-width="1"/>
<text x="31.4" y="265.55" font-size="5" text-anchor="end" font-weight="normal" fill="#5a7eb6" stroke="#5a7eb6" stroke-width="0.06" >Severe</text>
<text x="47.7" y="265.55" font-size="5" text-anchor="middle" font-weight="normal" fill="#333" stroke="#333" stroke-width="0.06" >197</text>
<text x="61.35" y="265.55" font-size="5" text-anchor="middle" font-weight="normal" fill="#333" stroke="#333" stroke-width="0.06" >151</text>
<text x="75.0" y="265.55" font-size="5" text-anchor="middle" font-weight="normal" fill="#333" stroke="#333" stroke-width="0.06" >117</text>
<text x="88.65" y="265.55" font-size="5" text-anchor="middle" font-weight="normal" fill="#333" stroke="#333" stroke-width="0.06" >86</text>
<text x="102.3" y="265.55" font-size="5" text-anchor="middle" font-weight="normal" fill="#333" stroke="#333" stroke-width="0.06" >63</text>
<text x="115.95" y="265.55" font-size="5" text-anchor="middle" font-weight="normal" fill="#333" stroke="#333" stroke-width="0.06" >44</text>
<text x="129.6" y="265.55" font-size="5" text-anchor="middle" font-weight="normal" fill="#333" stroke="#333" stroke-width="0.06" >36</text>
<text x="143.25" y="265.55" font-size="5" text-anchor="middle" font-weight="normal" fill="#333" stroke="#333" stroke-width="0.06" >28</text>
<text x="156.9" y="265.55" font-size="5" text-anchor="middle" font-weight="normal" fill="#333" stroke="#333" stroke-width="0.06" >24</text>
<text x="170.55" y="265.55" font-size="5" text-anchor="middle" font-weight="normal" fill="#333" stroke="#333" stroke-width="0.06" >15</text>
<text x="184.2" y="265.55" font-size="5" text-anchor="middle" font-weight="normal" fill="#333" stroke="#333" stroke-width="0.06" >11</text>
<text x="197.85" y="265.55" font-size="5" text-anchor="middle" font-weight="normal" fill="#333" stroke="#333" stroke-width="0.06" >6</text>
<text x="211.5" y="265.55" font-size="5" text-anchor="middle" font-weight="normal" fill="#333" stroke="#333" stroke-width="0.06" >6</text>
<text x="225.15" y="265.55" font-size="5" text-anchor="middle" font-weight="normal" fill="#333" stroke="#333" stroke-width="0.06" >2</text>
<text x="238.8" y="265.55" font-size="5" text-anchor="middle" font-weight="normal" fill="#333" stroke="#333" stroke-width="0.06" >2</text>
<text x="252.45" y="265.55" font-size="5" text-anchor="middle" font-weight="normal" fill="#333" stroke="#333" stroke-width="0.06" >0</text>
<line x1="47.7" y1="270.4" x2="47.7" y2="273.4" stroke="#222" stroke-width="1"/>
<text x="47.7" y="282.15" font-size="5" text-anchor="middle" font-weight="normal" fill="#222" stroke="#222" stroke-width="0.06" >0</text>
<line x1="61.35" y1="270.4" x2="61.35" y2="273.4" stroke="#222" stroke-width="1"/>
<text x="61.35" y="282.15" font-size="5" text-anchor="middle" font-weight="normal" fill="#222" stroke="#222" stroke-width="0.06" >1</text>
<line x1="75.0" y1="270.4" x2="75.0" y2="273.4" stroke="#222" stroke-width="1"/>
<text x="75.0" y="282.15" font-size="5" text-anchor="middle" font-weight="normal" fill="#222" stroke="#222" stroke-width="0.06" >2</text>
<line x1="88.65" y1="270.4" x2="88.65" y2="273.4" stroke="#222" stroke-width="1"/>
<text x="88.65" y="282.15" font-size="5" text-anchor="middle" font-weight="normal" fill="#222" stroke="#222" stroke-width="0.06" >3</text>
<line x1="102.3" y1="270.4" x2="102.3" y2="273.4" stroke="#222" stroke-width="1"/>
<text x="102.3" y="282.15" font-size="5" text-anchor="middle" font-weight="normal" fill="#222" stroke="#222" stroke-width="0.06" >4</text>
<line x1="115.95" y1="270.4" x2="115.95" y2="273.4" stroke="#222" stroke-width="1"/>
<text x="115.95" y="282.15" font-size="5" text-anchor="middle" font-weight="normal" fill="#222" stroke="#222" stroke-width="0.06" >5</text>
<line x1="129.6" y1="270.4" x2="129.6" y2="273.4" stroke="#222" stroke-width="1"/>
<text x="129.6" y="282.15" font-size="5" text-anchor="middle" font-weight="normal" fill="#222" stroke="#222" stroke-width="0.06" >6</text>
<line x1="143.25" y1="270.4" x2="143.25" y2="273.4" stroke="#222" stroke-width="1"/>
<text x="143.25" y="282.15" font-size="5" text-anchor="middle" font-weight="normal" fill="#222" stroke="#222" stroke-width="0.06" >7</text>
<line x1="156.9" y1="270.4" x2="156.9" y2="273.4" stroke="#222" stroke-width="1"/>
<text x="156.9" y="282.15" font-size="5" text-anchor="middle" font-weight="normal" fill="#222" stroke="#222" stroke-width="0.06" >8</text>
<line x1="170.55" y1="270.4" x2="170.55" y2="273.4" stroke="#222" stroke-width="1"/>
<text x="170.55" y="282.15" font-size="5" text-anchor="middle" font-weight="normal" fill="#222" stroke="#222" stroke-width="0.06" >9</text>
<line x1="184.2" y1="270.4" x2="184.2" y2="273.4" stroke="#222" stroke-width="1"/>
<text x="184.2" y="282.15" font-size="5" text-anchor="middle" font-weight="normal" fill="#222" stroke="#222" stroke-width="0.06" >10</text>
<line x1="197.85" y1="270.4" x2="197.85" y2="273.4" stroke="#222" stroke-width="1"/>
<text x="197.85" y="282.15" font-size="5" text-anchor="middle" font-weight="normal" fill="#222" stroke="#222" stroke-width="0.06" >11</text>
<line x1="211.5" y1="270.4" x2="211.5" y2="273.4" stroke="#222" stroke-width="1"/>
<text x="211.5" y="282.15" font-size="5" text-anchor="middle" font-weight="normal" fill="#222" stroke="#222" stroke-width="0.06" >12</text>
<line x1="225.15" y1="270.4" x2="225.15" y2="273.4" stroke="#222" stroke-width="1"/>
<text x="225.15" y="282.15" font-size="5" text-anchor="middle" font-weight="normal" fill="#222" stroke="#222" stroke-width="0.06" >13</text>
<line x1="238.8" y1="270.4" x2="238.8" y2="273.4" stroke="#222" stroke-width="1"/>
<text x="238.8" y="282.15" font-size="5" text-anchor="middle" font-weight="normal" fill="#222" stroke="#222" stroke-width="0.06" >14</text>
<line x1="252.45" y1="270.4" x2="252.45" y2="273.4" stroke="#222" stroke-width="1"/>
<text x="252.45" y="282.15" font-size="5" text-anchor="middle" font-weight="normal" fill="#222" stroke="#222" stroke-width="0.06" >15</text>
<text x="142.5" y="291.48" font-size="7.5" text-anchor="middle" font-weight="normal" fill="#1a1a1a" stroke="#1a1a1a" stroke-width="0.4" textLength="29" lengthAdjust="spacingAndGlyphs" >Time (years)</text>
<g transform="translate(4.4,244.5) rotate(-90)">
<text x="0" y="2.4" font-size="6.6" text-anchor="middle" font-weight="bold" fill="#111" stroke="#111" stroke-width="0.3" textLength="27" lengthAdjust="spacingAndGlyphs" >Year 1 AMC</text>
</g>
<text x="305" y="214.84" font-size="5.2" text-anchor="start" font-weight="normal" fill="#222" stroke="#222" stroke-width="0.06" >Number at risk</text>
<line x1="302.2" y1="223" x2="302.2" y2="271.0" stroke="#222" stroke-width="1.15"/>
<line x1="301.65" y1="270.4" x2="520" y2="270.4" stroke="#222" stroke-width="1.15"/>
<line x1="299.2" y1="226" x2="302.2" y2="226" stroke="#222" stroke-width="1"/>
<text x="295.8" y="228.25" font-size="5" text-anchor="end" font-weight="normal" fill="#bc4468" stroke="#bc4468" stroke-width="0.06" >Low</text>
<text x="312.4" y="228.25" font-size="5" text-anchor="middle" font-weight="normal" fill="#333" stroke="#333" stroke-width="0.06" >183</text>
<text x="326.0" y="228.25" font-size="5" text-anchor="middle" font-weight="normal" fill="#333" stroke="#333" stroke-width="0.06" >125</text>
<text x="339.6" y="228.25" font-size="5" text-anchor="middle" font-weight="normal" fill="#333" stroke="#333" stroke-width="0.06" >84</text>
<text x="353.2" y="228.25" font-size="5" text-anchor="middle" font-weight="normal" fill="#333" stroke="#333" stroke-width="0.06" >59</text>
<text x="366.8" y="228.25" font-size="5" text-anchor="middle" font-weight="normal" fill="#333" stroke="#333" stroke-width="0.06" >41</text>
<text x="380.4" y="228.25" font-size="5" text-anchor="middle" font-weight="normal" fill="#333" stroke="#333" stroke-width="0.06" >34</text>
<text x="394.0" y="228.25" font-size="5" text-anchor="middle" font-weight="normal" fill="#333" stroke="#333" stroke-width="0.06" >24</text>
<text x="407.6" y="228.25" font-size="5" text-anchor="middle" font-weight="normal" fill="#333" stroke="#333" stroke-width="0.06" >20</text>
<text x="421.2" y="228.25" font-size="5" text-anchor="middle" font-weight="normal" fill="#333" stroke="#333" stroke-width="0.06" >18</text>
<text x="434.8" y="228.25" font-size="5" text-anchor="middle" font-weight="normal" fill="#333" stroke="#333" stroke-width="0.06" >10</text>
<text x="448.4" y="228.25" font-size="5" text-anchor="middle" font-weight="normal" fill="#333" stroke="#333" stroke-width="0.06" >3</text>
<text x="462.0" y="228.25" font-size="5" text-anchor="middle" font-weight="normal" fill="#333" stroke="#333" stroke-width="0.06" >2</text>
<text x="475.6" y="228.25" font-size="5" text-anchor="middle" font-weight="normal" fill="#333" stroke="#333" stroke-width="0.06" >2</text>
<text x="489.2" y="228.25" font-size="5" text-anchor="middle" font-weight="normal" fill="#333" stroke="#333" stroke-width="0.06" >2</text>
<text x="502.8" y="228.25" font-size="5" text-anchor="middle" font-weight="normal" fill="#333" stroke="#333" stroke-width="0.06" >0</text>
<text x="516.4" y="228.25" font-size="5" text-anchor="middle" font-weight="normal" fill="#333" stroke="#333" stroke-width="0.06" >0</text>
<line x1="299.2" y1="238.5" x2="302.2" y2="238.5" stroke="#222" stroke-width="1"/>
<text x="295.8" y="240.75" font-size="5" text-anchor="end" font-weight="normal" fill="#f0aa48" stroke="#f0aa48" stroke-width="0.06" >Normal</text>
<text x="312.4" y="240.75" font-size="5" text-anchor="middle" font-weight="normal" fill="#333" stroke="#333" stroke-width="0.06" >4267</text>
<text x="326.0" y="240.75" font-size="5" text-anchor="middle" font-weight="normal" fill="#333" stroke="#333" stroke-width="0.06" >3390</text>
<text x="339.6" y="240.75" font-size="5" text-anchor="middle" font-weight="normal" fill="#333" stroke="#333" stroke-width="0.06" >2584</text>
<text x="353.2" y="240.75" font-size="5" text-anchor="middle" font-weight="normal" fill="#333" stroke="#333" stroke-width="0.06" >1947</text>
<text x="366.8" y="240.75" font-size="5" text-anchor="middle" font-weight="normal" fill="#333" stroke="#333" stroke-width="0.06" >1423</text>
<text x="380.4" y="240.75" font-size="5" text-anchor="middle" font-weight="normal" fill="#333" stroke="#333" stroke-width="0.06" >1058</text>
<text x="394.0" y="240.75" font-size="5" text-anchor="middle" font-weight="normal" fill="#333" stroke="#333" stroke-width="0.06" >809</text>
<text x="407.6" y="240.75" font-size="5" text-anchor="middle" font-weight="normal" fill="#333" stroke="#333" stroke-width="0.06" >582</text>
<text x="421.2" y="240.75" font-size="5" text-anchor="middle" font-weight="normal" fill="#333" stroke="#333" stroke-width="0.06" >418</text>
<text x="434.8" y="240.75" font-size="5" text-anchor="middle" font-weight="normal" fill="#333" stroke="#333" stroke-width="0.06" >300</text>
<text x="448.4" y="240.75" font-size="5" text-anchor="middle" font-weight="normal" fill="#333" stroke="#333" stroke-width="0.06" >223</text>
<text x="462.0" y="240.75" font-size="5" text-anchor="middle" font-weight="normal" fill="#333" stroke="#333" stroke-width="0.06" >151</text>
<text x="475.6" y="240.75" font-size="5" text-anchor="middle" font-weight="normal" fill="#333" stroke="#333" stroke-width="0.06" >107</text>
<text x="489.2" y="240.75" font-size="5" text-anchor="middle" font-weight="normal" fill="#333" stroke="#333" stroke-width="0.06" >59</text>
<text x="502.8" y="240.75" font-size="5" text-anchor="middle" font-weight="normal" fill="#333" stroke="#333" stroke-width="0.06" >0</text>
<text x="516.4" y="240.75" font-size="5" text-anchor="middle" font-weight="normal" fill="#333" stroke="#333" stroke-width="0.06" >0</text>
<line x1="299.2" y1="251" x2="302.2" y2="251" stroke="#222" stroke-width="1"/>
<text x="295.8" y="253.25" font-size="5" text-anchor="end" font-weight="normal" fill="#5cb25c" stroke="#5cb25c" stroke-width="0.06" >Elevated</text>
<text x="312.4" y="253.25" font-size="5" text-anchor="middle" font-weight="normal" fill="#333" stroke="#333" stroke-width="0.06" >1007</text>
<text x="326.0" y="253.25" font-size="5" text-anchor="middle" font-weight="normal" fill="#333" stroke="#333" stroke-width="0.06" >766</text>
<text x="339.6" y="253.25" font-size="5" text-anchor="middle" font-weight="normal" fill="#333" stroke="#333" stroke-width="0.06" >563</text>
<text x="353.2" y="253.25" font-size="5" text-anchor="middle" font-weight="normal" fill="#333" stroke="#333" stroke-width="0.06" >434</text>
<text x="366.8" y="253.25" font-size="5" text-anchor="middle" font-weight="normal" fill="#333" stroke="#333" stroke-width="0.06" >325</text>
<text x="380.4" y="253.25" font-size="5" text-anchor="middle" font-weight="normal" fill="#333" stroke="#333" stroke-width="0.06" >233</text>
<text x="394.0" y="253.25" font-size="5" text-anchor="middle" font-weight="normal" fill="#333" stroke="#333" stroke-width="0.06" >167</text>
<text x="407.6" y="253.25" font-size="5" text-anchor="middle" font-weight="normal" fill="#333" stroke="#333" stroke-width="0.06" >125</text>
<text x="421.2" y="253.25" font-size="5" text-anchor="middle" font-weight="normal" fill="#333" stroke="#333" stroke-width="0.06" >89</text>
<text x="434.8" y="253.25" font-size="5" text-anchor="middle" font-weight="normal" fill="#333" stroke="#333" stroke-width="0.06" >66</text>
<text x="448.4" y="253.25" font-size="5" text-anchor="middle" font-weight="normal" fill="#333" stroke="#333" stroke-width="0.06" >49</text>
<text x="462.0" y="253.25" font-size="5" text-anchor="middle" font-weight="normal" fill="#333" stroke="#333" stroke-width="0.06" >36</text>
<text x="475.6" y="253.25" font-size="5" text-anchor="middle" font-weight="normal" fill="#333" stroke="#333" stroke-width="0.06" >24</text>
<text x="489.2" y="253.25" font-size="5" text-anchor="middle" font-weight="normal" fill="#333" stroke="#333" stroke-width="0.06" >13</text>
<text x="502.8" y="253.25" font-size="5" text-anchor="middle" font-weight="normal" fill="#333" stroke="#333" stroke-width="0.06" >0</text>
<text x="516.4" y="253.25" font-size="5" text-anchor="middle" font-weight="normal" fill="#333" stroke="#333" stroke-width="0.06" >0</text>
<line x1="299.2" y1="263.3" x2="302.2" y2="263.3" stroke="#222" stroke-width="1"/>
<text x="295.8" y="265.55" font-size="5" text-anchor="end" font-weight="normal" fill="#5a7eb6" stroke="#5a7eb6" stroke-width="0.06" >Severe</text>
<text x="312.4" y="265.55" font-size="5" text-anchor="middle" font-weight="normal" fill="#333" stroke="#333" stroke-width="0.06" >133</text>
<text x="326.0" y="265.55" font-size="5" text-anchor="middle" font-weight="normal" fill="#333" stroke="#333" stroke-width="0.06" >92</text>
<text x="339.6" y="265.55" font-size="5" text-anchor="middle" font-weight="normal" fill="#333" stroke="#333" stroke-width="0.06" >65</text>
<text x="353.2" y="265.55" font-size="5" text-anchor="middle" font-weight="normal" fill="#333" stroke="#333" stroke-width="0.06" >53</text>
<text x="366.8" y="265.55" font-size="5" text-anchor="middle" font-weight="normal" fill="#333" stroke="#333" stroke-width="0.06" >38</text>
<text x="380.4" y="265.55" font-size="5" text-anchor="middle" font-weight="normal" fill="#333" stroke="#333" stroke-width="0.06" >24</text>
<text x="394.0" y="265.55" font-size="5" text-anchor="middle" font-weight="normal" fill="#333" stroke="#333" stroke-width="0.06" >22</text>
<text x="407.6" y="265.55" font-size="5" text-anchor="middle" font-weight="normal" fill="#333" stroke="#333" stroke-width="0.06" >16</text>
<text x="421.2" y="265.55" font-size="5" text-anchor="middle" font-weight="normal" fill="#333" stroke="#333" stroke-width="0.06" >11</text>
<text x="434.8" y="265.55" font-size="5" text-anchor="middle" font-weight="normal" fill="#333" stroke="#333" stroke-width="0.06" >9</text>
<text x="448.4" y="265.55" font-size="5" text-anchor="middle" font-weight="normal" fill="#333" stroke="#333" stroke-width="0.06" >6</text>
<text x="462.0" y="265.55" font-size="5" text-anchor="middle" font-weight="normal" fill="#333" stroke="#333" stroke-width="0.06" >2</text>
<text x="475.6" y="265.55" font-size="5" text-anchor="middle" font-weight="normal" fill="#333" stroke="#333" stroke-width="0.06" >2</text>
<text x="489.2" y="265.55" font-size="5" text-anchor="middle" font-weight="normal" fill="#333" stroke="#333" stroke-width="0.06" >0</text>
<text x="502.8" y="265.55" font-size="5" text-anchor="middle" font-weight="normal" fill="#333" stroke="#333" stroke-width="0.06" >0</text>
<text x="516.4" y="265.55" font-size="5" text-anchor="middle" font-weight="normal" fill="#333" stroke="#333" stroke-width="0.06" >0</text>
<line x1="312.4" y1="270.4" x2="312.4" y2="273.4" stroke="#222" stroke-width="1"/>
<text x="312.4" y="282.15" font-size="5" text-anchor="middle" font-weight="normal" fill="#222" stroke="#222" stroke-width="0.06" >0</text>
<line x1="326.0" y1="270.4" x2="326.0" y2="273.4" stroke="#222" stroke-width="1"/>
<text x="326.0" y="282.15" font-size="5" text-anchor="middle" font-weight="normal" fill="#222" stroke="#222" stroke-width="0.06" >1</text>
<line x1="339.6" y1="270.4" x2="339.6" y2="273.4" stroke="#222" stroke-width="1"/>
<text x="339.6" y="282.15" font-size="5" text-anchor="middle" font-weight="normal" fill="#222" stroke="#222" stroke-width="0.06" >2</text>
<line x1="353.2" y1="270.4" x2="353.2" y2="273.4" stroke="#222" stroke-width="1"/>
<text x="353.2" y="282.15" font-size="5" text-anchor="middle" font-weight="normal" fill="#222" stroke="#222" stroke-width="0.06" >3</text>
<line x1="366.8" y1="270.4" x2="366.8" y2="273.4" stroke="#222" stroke-width="1"/>
<text x="366.8" y="282.15" font-size="5" text-anchor="middle" font-weight="normal" fill="#222" stroke="#222" stroke-width="0.06" >4</text>
<line x1="380.4" y1="270.4" x2="380.4" y2="273.4" stroke="#222" stroke-width="1"/>
<text x="380.4" y="282.15" font-size="5" text-anchor="middle" font-weight="normal" fill="#222" stroke="#222" stroke-width="0.06" >5</text>
<line x1="394.0" y1="270.4" x2="394.0" y2="273.4" stroke="#222" stroke-width="1"/>
<text x="394.0" y="282.15" font-size="5" text-anchor="middle" font-weight="normal" fill="#222" stroke="#222" stroke-width="0.06" >6</text>
<line x1="407.6" y1="270.4" x2="407.6" y2="273.4" stroke="#222" stroke-width="1"/>
<text x="407.6" y="282.15" font-size="5" text-anchor="middle" font-weight="normal" fill="#222" stroke="#222" stroke-width="0.06" >7</text>
<line x1="421.2" y1="270.4" x2="421.2" y2="273.4" stroke="#222" stroke-width="1"/>
<text x="421.2" y="282.15" font-size="5" text-anchor="middle" font-weight="normal" fill="#222" stroke="#222" stroke-width="0.06" >8</text>
<line x1="434.8" y1="270.4" x2="434.8" y2="273.4" stroke="#222" stroke-width="1"/>
<text x="434.8" y="282.15" font-size="5" text-anchor="middle" font-weight="normal" fill="#222" stroke="#222" stroke-width="0.06" >9</text>
<line x1="448.4" y1="270.4" x2="448.4" y2="273.4" stroke="#222" stroke-width="1"/>
<text x="448.4" y="282.15" font-size="5" text-anchor="middle" font-weight="normal" fill="#222" stroke="#222" stroke-width="0.06" >10</text>
<line x1="462.0" y1="270.4" x2="462.0" y2="273.4" stroke="#222" stroke-width="1"/>
<text x="462.0" y="282.15" font-size="5" text-anchor="middle" font-weight="normal" fill="#222" stroke="#222" stroke-width="0.06" >11</text>
<line x1="475.6" y1="270.4" x2="475.6" y2="273.4" stroke="#222" stroke-width="1"/>
<text x="475.6" y="282.15" font-size="5" text-anchor="middle" font-weight="normal" fill="#222" stroke="#222" stroke-width="0.06" >12</text>
<line x1="489.2" y1="270.4" x2="489.2" y2="273.4" stroke="#222" stroke-width="1"/>
<text x="489.2" y="282.15" font-size="5" text-anchor="middle" font-weight="normal" fill="#222" stroke="#222" stroke-width="0.06" >13</text>
<line x1="502.8" y1="270.4" x2="502.8" y2="273.4" stroke="#222" stroke-width="1"/>
<text x="502.8" y="282.15" font-size="5" text-anchor="middle" font-weight="normal" fill="#222" stroke="#222" stroke-width="0.06" >14</text>
<line x1="516.4" y1="270.4" x2="516.4" y2="273.4" stroke="#222" stroke-width="1"/>
<text x="516.4" y="282.15" font-size="5" text-anchor="middle" font-weight="normal" fill="#222" stroke="#222" stroke-width="0.06" >15</text>
<text x="420.4" y="291.18" font-size="7.5" text-anchor="middle" font-weight="normal" fill="#1a1a1a" stroke="#1a1a1a" stroke-width="0.4" textLength="29" lengthAdjust="spacingAndGlyphs" >Time (years)</text>
<g transform="translate(268.7,244.4) rotate(-90)">
<text x="0" y="2.4" font-size="6.6" text-anchor="middle" font-weight="bold" fill="#111" stroke="#111" stroke-width="0.3" textLength="31.5" lengthAdjust="spacingAndGlyphs" >Year 1.5 AMC</text>
</g>
<text x="169" y="525.44" font-size="5.2" text-anchor="start" font-weight="normal" fill="#222" stroke="#222" stroke-width="0.06" >Number at risk</text>
<line x1="169.1" y1="529.8" x2="169.1" y2="580.8000000000001" stroke="#222" stroke-width="1.15"/>
<line x1="168.54999999999998" y1="580.2" x2="386" y2="580.2" stroke="#222" stroke-width="1.15"/>
<line x1="166.1" y1="536.3" x2="169.1" y2="536.3" stroke="#222" stroke-width="1"/>
<text x="162.5" y="538.55" font-size="5" text-anchor="end" font-weight="normal" fill="#bc4468" stroke="#bc4468" stroke-width="0.06" >Low</text>
<text x="178.6" y="538.55" font-size="5" text-anchor="middle" font-weight="normal" fill="#333" stroke="#333" stroke-width="0.06" >109</text>
<text x="194.65" y="538.55" font-size="5" text-anchor="middle" font-weight="normal" fill="#333" stroke="#333" stroke-width="0.06" >70</text>
<text x="210.7" y="538.55" font-size="5" text-anchor="middle" font-weight="normal" fill="#333" stroke="#333" stroke-width="0.06" >46</text>
<text x="226.75" y="538.55" font-size="5" text-anchor="middle" font-weight="normal" fill="#333" stroke="#333" stroke-width="0.06" >30</text>
<text x="242.8" y="538.55" font-size="5" text-anchor="middle" font-weight="normal" fill="#333" stroke="#333" stroke-width="0.06" >21</text>
<text x="258.85" y="538.55" font-size="5" text-anchor="middle" font-weight="normal" fill="#333" stroke="#333" stroke-width="0.06" >16</text>
<text x="274.9" y="538.55" font-size="5" text-anchor="middle" font-weight="normal" fill="#333" stroke="#333" stroke-width="0.06" >15</text>
<text x="290.95" y="538.55" font-size="5" text-anchor="middle" font-weight="normal" fill="#333" stroke="#333" stroke-width="0.06" >10</text>
<text x="307.0" y="538.55" font-size="5" text-anchor="middle" font-weight="normal" fill="#333" stroke="#333" stroke-width="0.06" >8</text>
<text x="323.05" y="538.55" font-size="5" text-anchor="middle" font-weight="normal" fill="#333" stroke="#333" stroke-width="0.06" >6</text>
<text x="339.1" y="538.55" font-size="5" text-anchor="middle" font-weight="normal" fill="#333" stroke="#333" stroke-width="0.06" >2</text>
<text x="355.15" y="538.55" font-size="5" text-anchor="middle" font-weight="normal" fill="#333" stroke="#333" stroke-width="0.06" >2</text>
<text x="371.2" y="538.55" font-size="5" text-anchor="middle" font-weight="normal" fill="#333" stroke="#333" stroke-width="0.06" >2</text>
<line x1="166.1" y1="548.4" x2="169.1" y2="548.4" stroke="#222" stroke-width="1"/>
<text x="162.5" y="550.65" font-size="5" text-anchor="end" font-weight="normal" fill="#f0aa48" stroke="#f0aa48" stroke-width="0.06" >Normal</text>
<text x="178.6" y="550.65" font-size="5" text-anchor="middle" font-weight="normal" fill="#333" stroke="#333" stroke-width="0.06" >3184</text>
<text x="194.65" y="550.65" font-size="5" text-anchor="middle" font-weight="normal" fill="#333" stroke="#333" stroke-width="0.06" >2499</text>
<text x="210.7" y="550.65" font-size="5" text-anchor="middle" font-weight="normal" fill="#333" stroke="#333" stroke-width="0.06" >1893</text>
<text x="226.75" y="550.65" font-size="5" text-anchor="middle" font-weight="normal" fill="#333" stroke="#333" stroke-width="0.06" >1414</text>
<text x="242.8" y="550.65" font-size="5" text-anchor="middle" font-weight="normal" fill="#333" stroke="#333" stroke-width="0.06" >1054</text>
<text x="258.85" y="550.65" font-size="5" text-anchor="middle" font-weight="normal" fill="#333" stroke="#333" stroke-width="0.06" >796</text>
<text x="274.9" y="550.65" font-size="5" text-anchor="middle" font-weight="normal" fill="#333" stroke="#333" stroke-width="0.06" >570</text>
<text x="290.95" y="550.65" font-size="5" text-anchor="middle" font-weight="normal" fill="#333" stroke="#333" stroke-width="0.06" >404</text>
<text x="307.0" y="550.65" font-size="5" text-anchor="middle" font-weight="normal" fill="#333" stroke="#333" stroke-width="0.06" >290</text>
<text x="323.05" y="550.65" font-size="5" text-anchor="middle" font-weight="normal" fill="#333" stroke="#333" stroke-width="0.06" >208</text>
<text x="339.1" y="550.65" font-size="5" text-anchor="middle" font-weight="normal" fill="#333" stroke="#333" stroke-width="0.06" >137</text>
<text x="355.15" y="550.65" font-size="5" text-anchor="middle" font-weight="normal" fill="#333" stroke="#333" stroke-width="0.06" >94</text>
<text x="371.2" y="550.65" font-size="5" text-anchor="middle" font-weight="normal" fill="#333" stroke="#333" stroke-width="0.06" >55</text>
<line x1="166.1" y1="560.8" x2="169.1" y2="560.8" stroke="#222" stroke-width="1"/>
<text x="162.5" y="563.05" font-size="5" text-anchor="end" font-weight="normal" fill="#5cb25c" stroke="#5cb25c" stroke-width="0.06" >Elevated</text>
<text x="178.6" y="563.05" font-size="5" text-anchor="middle" font-weight="normal" fill="#333" stroke="#333" stroke-width="0.06" >722</text>
<text x="194.65" y="563.05" font-size="5" text-anchor="middle" font-weight="normal" fill="#333" stroke="#333" stroke-width="0.06" >533</text>
<text x="210.7" y="563.05" font-size="5" text-anchor="middle" font-weight="normal" fill="#333" stroke="#333" stroke-width="0.06" >393</text>
<text x="226.75" y="563.05" font-size="5" text-anchor="middle" font-weight="normal" fill="#333" stroke="#333" stroke-width="0.06" >283</text>
<text x="242.8" y="563.05" font-size="5" text-anchor="middle" font-weight="normal" fill="#333" stroke="#333" stroke-width="0.06" >204</text>
<text x="258.85" y="563.05" font-size="5" text-anchor="middle" font-weight="normal" fill="#333" stroke="#333" stroke-width="0.06" >147</text>
<text x="274.9" y="563.05" font-size="5" text-anchor="middle" font-weight="normal" fill="#333" stroke="#333" stroke-width="0.06" >110</text>
<text x="290.95" y="563.05" font-size="5" text-anchor="middle" font-weight="normal" fill="#333" stroke="#333" stroke-width="0.06" >80</text>
<text x="307.0" y="563.05" font-size="5" text-anchor="middle" font-weight="normal" fill="#333" stroke="#333" stroke-width="0.06" >62</text>
<text x="323.05" y="563.05" font-size="5" text-anchor="middle" font-weight="normal" fill="#333" stroke="#333" stroke-width="0.06" >47</text>
<text x="339.1" y="563.05" font-size="5" text-anchor="middle" font-weight="normal" fill="#333" stroke="#333" stroke-width="0.06" >33</text>
<text x="355.15" y="563.05" font-size="5" text-anchor="middle" font-weight="normal" fill="#333" stroke="#333" stroke-width="0.06" >22</text>
<text x="371.2" y="563.05" font-size="5" text-anchor="middle" font-weight="normal" fill="#333" stroke="#333" stroke-width="0.06" >11</text>
<line x1="166.1" y1="573.2" x2="169.1" y2="573.2" stroke="#222" stroke-width="1"/>
<text x="162.5" y="575.45" font-size="5" text-anchor="end" font-weight="normal" fill="#5a7eb6" stroke="#5a7eb6" stroke-width="0.06" >Severe</text>
<text x="178.6" y="575.45" font-size="5" text-anchor="middle" font-weight="normal" fill="#333" stroke="#333" stroke-width="0.06" >95</text>
<text x="194.65" y="575.45" font-size="5" text-anchor="middle" font-weight="normal" fill="#333" stroke="#333" stroke-width="0.06" >60</text>
<text x="210.7" y="575.45" font-size="5" text-anchor="middle" font-weight="normal" fill="#333" stroke="#333" stroke-width="0.06" >47</text>
<text x="226.75" y="575.45" font-size="5" text-anchor="middle" font-weight="normal" fill="#333" stroke="#333" stroke-width="0.06" >30</text>
<text x="242.8" y="575.45" font-size="5" text-anchor="middle" font-weight="normal" fill="#333" stroke="#333" stroke-width="0.06" >17</text>
<text x="258.85" y="575.45" font-size="5" text-anchor="middle" font-weight="normal" fill="#333" stroke="#333" stroke-width="0.06" >11</text>
<text x="274.9" y="575.45" font-size="5" text-anchor="middle" font-weight="normal" fill="#333" stroke="#333" stroke-width="0.06" >11</text>
<text x="290.95" y="575.45" font-size="5" text-anchor="middle" font-weight="normal" fill="#333" stroke="#333" stroke-width="0.06" >8</text>
<text x="307.0" y="575.45" font-size="5" text-anchor="middle" font-weight="normal" fill="#333" stroke="#333" stroke-width="0.06" >5</text>
<text x="323.05" y="575.45" font-size="5" text-anchor="middle" font-weight="normal" fill="#333" stroke="#333" stroke-width="0.06" >1</text>
<text x="339.1" y="575.45" font-size="5" text-anchor="middle" font-weight="normal" fill="#333" stroke="#333" stroke-width="0.06" >0</text>
<text x="355.15" y="575.45" font-size="5" text-anchor="middle" font-weight="normal" fill="#333" stroke="#333" stroke-width="0.06" >0</text>
<text x="371.2" y="575.45" font-size="5" text-anchor="middle" font-weight="normal" fill="#333" stroke="#333" stroke-width="0.06" >0</text>
<line x1="178.6" y1="580.2" x2="178.6" y2="583.2" stroke="#222" stroke-width="1"/>
<text x="178.6" y="591.95" font-size="5" text-anchor="middle" font-weight="normal" fill="#222" stroke="#222" stroke-width="0.06" >0</text>
<line x1="194.65" y1="580.2" x2="194.65" y2="583.2" stroke="#222" stroke-width="1"/>
<text x="194.65" y="591.95" font-size="5" text-anchor="middle" font-weight="normal" fill="#222" stroke="#222" stroke-width="0.06" >1</text>
<line x1="210.7" y1="580.2" x2="210.7" y2="583.2" stroke="#222" stroke-width="1"/>
<text x="210.7" y="591.95" font-size="5" text-anchor="middle" font-weight="normal" fill="#222" stroke="#222" stroke-width="0.06" >2</text>
<line x1="226.75" y1="580.2" x2="226.75" y2="583.2" stroke="#222" stroke-width="1"/>
<text x="226.75" y="591.95" font-size="5" text-anchor="middle" font-weight="normal" fill="#222" stroke="#222" stroke-width="0.06" >3</text>
<line x1="242.8" y1="580.2" x2="242.8" y2="583.2" stroke="#222" stroke-width="1"/>
<text x="242.8" y="591.95" font-size="5" text-anchor="middle" font-weight="normal" fill="#222" stroke="#222" stroke-width="0.06" >4</text>
<line x1="258.85" y1="580.2" x2="258.85" y2="583.2" stroke="#222" stroke-width="1"/>
<text x="258.85" y="591.95" font-size="5" text-anchor="middle" font-weight="normal" fill="#222" stroke="#222" stroke-width="0.06" >5</text>
<line x1="274.9" y1="580.2" x2="274.9" y2="583.2" stroke="#222" stroke-width="1"/>
<text x="274.9" y="591.95" font-size="5" text-anchor="middle" font-weight="normal" fill="#222" stroke="#222" stroke-width="0.06" >6</text>
<line x1="290.95" y1="580.2" x2="290.95" y2="583.2" stroke="#222" stroke-width="1"/>
<text x="290.95" y="591.95" font-size="5" text-anchor="middle" font-weight="normal" fill="#222" stroke="#222" stroke-width="0.06" >7</text>
<line x1="307.0" y1="580.2" x2="307.0" y2="583.2" stroke="#222" stroke-width="1"/>
<text x="307.0" y="591.95" font-size="5" text-anchor="middle" font-weight="normal" fill="#222" stroke="#222" stroke-width="0.06" >8</text>
<line x1="323.05" y1="580.2" x2="323.05" y2="583.2" stroke="#222" stroke-width="1"/>
<text x="323.05" y="591.95" font-size="5" text-anchor="middle" font-weight="normal" fill="#222" stroke="#222" stroke-width="0.06" >9</text>
<line x1="339.1" y1="580.2" x2="339.1" y2="583.2" stroke="#222" stroke-width="1"/>
<text x="339.1" y="591.95" font-size="5" text-anchor="middle" font-weight="normal" fill="#222" stroke="#222" stroke-width="0.06" >10</text>
<line x1="355.15" y1="580.2" x2="355.15" y2="583.2" stroke="#222" stroke-width="1"/>
<text x="355.15" y="591.95" font-size="5" text-anchor="middle" font-weight="normal" fill="#222" stroke="#222" stroke-width="0.06" >11</text>
<line x1="371.2" y1="580.2" x2="371.2" y2="583.2" stroke="#222" stroke-width="1"/>
<text x="371.2" y="591.95" font-size="5" text-anchor="middle" font-weight="normal" fill="#222" stroke="#222" stroke-width="0.06" >12</text>
<text x="276.6" y="601.67" font-size="7.5" text-anchor="middle" font-weight="normal" fill="#1a1a1a" stroke="#1a1a1a" stroke-width="0.4" textLength="29" lengthAdjust="spacingAndGlyphs" >Time (years)</text>
<g transform="translate(135.2,548.2) rotate(-90)">
<text x="0" y="2.4" font-size="6.6" text-anchor="middle" font-weight="bold" fill="#111" stroke="#111" stroke-width="0.3" textLength="31" lengthAdjust="spacingAndGlyphs" >Year 2.5 AMC</text>
</g>
</g></svg></body></html>
